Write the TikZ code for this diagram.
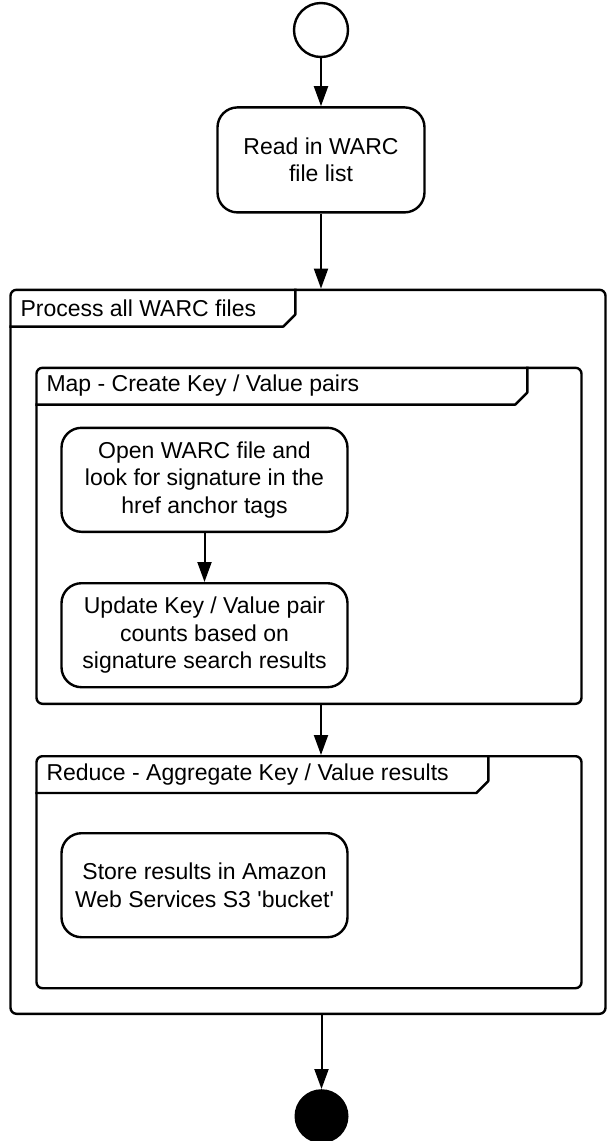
\documentclass[tikz,border=0pt]{standalone}
\usepackage{fontspec}
\setmainfont{Liberation Sans}
\usetikzlibrary{arrows.meta, positioning, calc}

\begin{document}
\begin{tikzpicture}[
  x=1pt, y=1pt,
  font=\fontsize{23pt}{27.5pt}\selectfont,
  action/.style={rectangle, draw, line width=2.4pt, rounded corners=20pt, align=center,
                 minimum width=286pt, minimum height=104pt, inner sep=4pt},
  frame/.style={rectangle, draw, line width=2.4pt, rounded corners=6pt, minimum width=545pt},
  framelabel/.style={anchor=north west, minimum height=38pt, inner xsep=11pt, inner ysep=0pt},
  tabline/.style={line width=2.4pt, line join=round},
  arrow/.style={-{Triangle[length=20pt, width=14pt]}, line width=2pt},
  initial/.style={circle, draw, line width=2.4pt, minimum size=54pt, inner sep=0pt},
  final/.style={circle, fill=black, minimum size=54pt, inner sep=0pt},
]
  \useasboundingbox (0,0) rectangle (606,-1141);

  \node[initial] (start) at (321,-30) {};
  \node[action, minimum width=207pt, minimum height=105pt, below=48pt of start] (read) {Read in WARC\\file list};

  % outer frame
  \node[frame, minimum width=595pt, minimum height=724pt, below=75pt of read, xshift=-13pt] (process) {};
  \node[framelabel] (processlbl) at (process.north west) {Process all WARC files};
  \draw[tabline] ($(process.north west)+(286,0)$) -- ++(0,-26) -- ++(-12,-12) -- ($(process.north west)+(0,-38)$);

  % map
  \node[frame, minimum height=336pt, below right=78pt and 26pt of process.north west] (map) {};
  \node[framelabel] (maplbl) at (map.north west) {Map - Create Key / Value pairs};
  \draw[tabline] ($(map.north west)+(492,0)$) -- ++(0,-26) -- ++(-12,-12) -- ($(map.north west)+(0,-38)$);
  \node[action, below right=60pt and 25pt of map.north west] (open) {Open WARC file and\\look for signature in the\\href anchor tags};
  \node[action, below=49pt of open] (update) {Update Key / Value pair\\counts based on\\signature search results};

  % reduce
  \node[frame, minimum height=232pt, below=50pt of map] (reduce) {};
  \node[framelabel] (reducelbl) at (reduce.north west) {Reduce - Aggregate Key / Value results};
  \draw[tabline] ($(reduce.north west)+(453,0)$) -- ++(0,-26) -- ++(-12,-12) -- ($(reduce.north west)+(0,-38)$);
  \node[action, below right=77pt and 25pt of reduce.north west] (store) {Store results in Amazon\\Web Services S3 \textquotesingle bucket\textquotesingle};

  \node[final, below=74pt of process, xshift=13.5pt] (stop) {};

  \draw[arrow] (start) -- (read);
  \draw[arrow] (read) -- (read |- process.north);
  \draw[arrow] (open) -- (update);
  \draw[arrow] (start |- map.south) -- (start |- reduce.north);
  \draw[arrow] (stop |- process.south) -- (stop);
\end{tikzpicture}
\end{document}
